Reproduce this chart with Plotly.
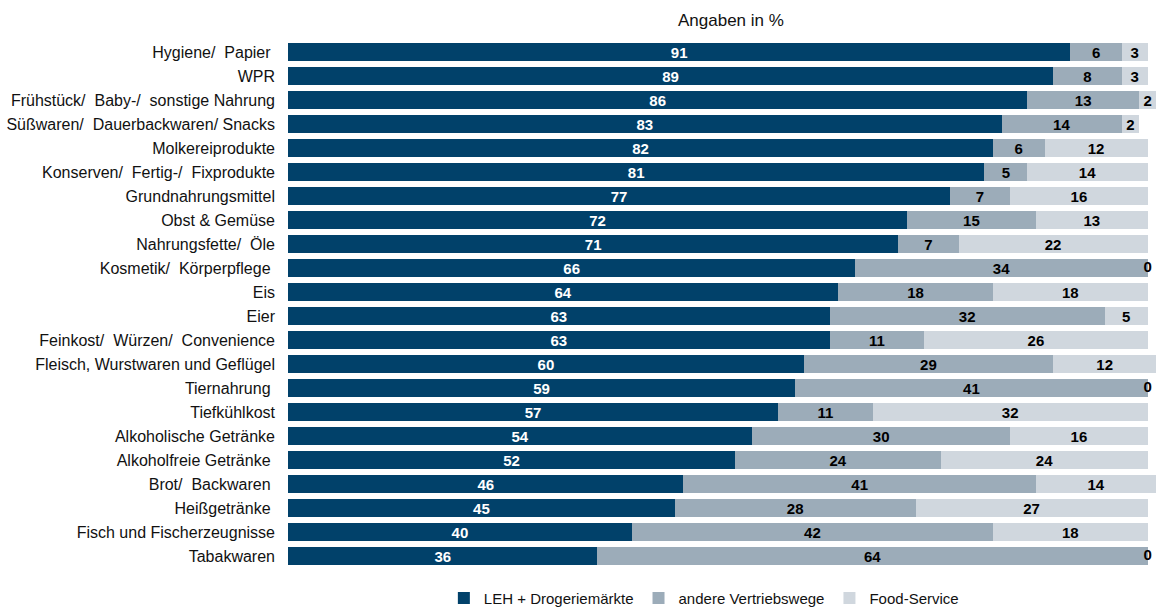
import plotly.graph_objects as go

# categories, top to bottom
categories = [
    "Hygiene/  Papier ",
    "WPR",
    "Frühstück/  Baby-/  sonstige Nahrung",
    "Süßwaren/  Dauerbackwaren/ Snacks",
    "Molkereiprodukte",
    "Konserven/  Fertig-/  Fixprodukte",
    "Grundnahrungsmittel",
    "Obst & Gemüse",
    "Nahrungsfette/  Öle",
    "Kosmetik/  Körperpflege ",
    "Eis",
    "Eier",
    "Feinkost/  Würzen/  Convenience",
    "Fleisch, Wurstwaren und Geflügel",
    "Tiernahrung ",
    "Tiefkühlkost",
    "Alkoholische Getränke",
    "Alkoholfreie Getränke ",
    "Brot/  Backwaren ",
    "Heißgetränke ",
    "Fisch und Fischerzeugnisse",
    "Tabakwaren",
]

leh = [91, 89, 86, 83, 82, 81, 77, 72, 71, 66, 64, 63, 63, 60, 59, 57, 54, 52, 46, 45, 40, 36]
andere = [6, 8, 13, 14, 6, 5, 7, 15, 7, 34, 18, 32, 11, 29, 41, 11, 30, 24, 41, 28, 42, 64]
food_service = [3, 3, 2, 2, 12, 14, 16, 13, 22, 0, 18, 5, 26, 12, 0, 32, 16, 24, 14, 27, 18, 0]

# keep the double / trailing spaces of the original labels
labels = [c.replace("  ", "\u00a0 ").rstrip() + ("\u00a0" if c.endswith(" ") else "")
          for c in categories]

FONT = "Liberation Sans"

series = [
    ("LEH + Drogeriemärkte", leh, "#01416a", "white"),
    ("andere Vertriebswege", andere, "#9cacb9", "black"),
    ("Food-Service", food_service, "#d0d7de", "black"),
]

fig = go.Figure()
for name, vals, color, txtcolor in series:
    fig.add_trace(go.Bar(
        y=labels,
        x=vals,
        name=name,
        orientation="h",
        marker=dict(color=color, line=dict(width=0)),
        text=[str(v) if v else "" for v in vals],
        textposition="inside",
        textangle=0,
        insidetextanchor="middle",
        constraintext="none",
        textfont=dict(family=FONT, size=15, color=txtcolor, weight="bold"),
        cliponaxis=False,
        hoverinfo="skip",
    ))

# zero shares: label sits at the bar end
totals = [a + b + c for a, b, c in zip(leh, andere, food_service)]
zero_idx = [i for i, v in enumerate(food_service) if v == 0]
fig.add_trace(go.Scatter(
    x=[totals[i] for i in zero_idx],
    y=[labels[i] for i in zero_idx],
    text=[str(food_service[i]) for i in zero_idx],
    mode="text",
    textposition="middle center",
    textfont=dict(family=FONT, size=15, color="black", weight="bold"),
    showlegend=False,
    cliponaxis=False,
    hoverinfo="skip",
))

fig.add_annotation(
    text="Angaben in %", xref="paper", yref="paper", x=0.509, y=1.0, yanchor="bottom", yshift=8,
    showarrow=False, font=dict(family=FONT, size=17, color="#111111"),
)

fig.update_layout(
    barmode="stack",
    bargap=0.29,
    width=1158,
    height=608,
    margin=dict(l=288, r=0, t=40, b=40, autoexpand=False),
    plot_bgcolor="white",
    paper_bgcolor="white",
    font=dict(family=FONT, size=16, color="#111111"),
    showlegend=True,
    legend=dict(
        orientation="h", x=0.478, xanchor="center",
        y=-0.026, yanchor="top",
        font=dict(family=FONT, size=15, color="#111111"),
        traceorder="normal", itemwidth=30, tracegroupgap=0,
    ),
)
fig.update_xaxes(range=[0, 101.2], visible=False, fixedrange=True, automargin=False)
fig.update_yaxes(range=[len(labels) - 0.5, -0.5], autorange=False, showline=False, ticks="",
                 showgrid=False, automargin=False, ticklabelstandoff=12,
                 tickfont=dict(family=FONT, size=16, color="#111111"))

# drop the default 8px page margin so the figure fills the window exactly
fig.write_html("out.html", config={"displayModeBar": False},
               post_script="document.body.style.margin='0';")
